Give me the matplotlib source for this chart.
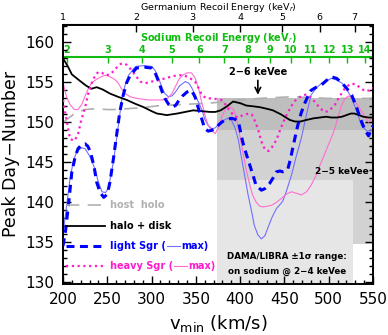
import numpy as np
import matplotlib
matplotlib.use("Agg")
import matplotlib.pyplot as plt
from matplotlib.patches import Rectangle

# data
v_disk = [200, 205, 210, 219, 226, 232, 238, 245, 253, 262, 272, 282, 291, 300, 306, 312, 317, 323, 329, 338,
          347, 356, 366, 372, 378, 385, 392, 400, 407, 415, 422, 430, 437, 446, 456, 462, 468, 475, 483, 490,
          497, 503, 509, 515, 520, 525, 529, 534, 539, 545, 550]
y_disk = [158.0, 157.1, 156.0, 155.2, 154.6, 154.2, 154.4, 154.1, 153.6, 153.2, 152.8, 152.3, 151.9, 151.4, 151.1,
          151.0, 150.9, 151.0, 151.1, 151.3, 151.5, 151.4, 151.3, 151.3, 151.5, 152.0, 152.6, 152.4, 152.1, 152.0,
          151.9, 151.7, 151.5, 151.0, 150.3, 150.1, 150.1, 150.3, 150.5, 150.6, 150.7, 150.6, 150.6, 150.7, 150.9,
          151.1, 151.1, 150.9, 150.7, 150.6, 150.6]

v_host = [200, 206, 212, 217, 225, 236, 250, 262, 272, 285, 294, 310, 330, 347, 365, 384, 400, 422, 440, 459,
          480, 497, 520, 550]
y_host = [150.0, 150.5, 151.0, 151.3, 151.6, 151.7, 151.6, 151.6, 151.7, 151.8, 151.9, 152.1, 152.2, 152.3, 152.4,
          152.6, 152.8, 153.0, 153.1, 153.2, 153.1, 153.0, 153.0, 153.0]

v_light = [200, 203, 207, 210, 214, 217, 221, 225, 228, 231, 235, 238, 242, 246, 250, 253, 257, 261, 264, 268,
           272, 276, 283, 292, 300, 304, 308, 312, 315, 319, 323, 327, 330, 335, 340, 345, 349, 353, 357, 360,
           364, 368, 372, 375, 379, 383, 390, 394, 398, 403, 407, 411, 415, 418, 424, 428, 433, 437, 441, 445,
           448, 451, 454, 457, 460, 465, 469, 473, 477, 480, 486, 492, 497, 503, 509, 515, 520, 526, 531, 537,
           541, 545, 550]
y_light = [134.5, 136.5, 140.5, 143.8, 145.8, 146.7, 147.2, 147.3, 147.0, 146.3, 144.5, 142.5, 141.2, 140.6, 141.0,
           142.5, 145.5, 148.8, 151.2, 153.4, 155.0, 155.9, 156.8, 156.9, 156.8, 156.2, 155.1, 153.8, 153.0, 152.3,
           151.9, 152.1, 152.6, 153.3, 153.8, 154.0, 153.2, 151.7, 150.3, 149.2, 148.9, 149.0, 149.3, 149.6, 150.0,
           150.3, 150.5, 150.4, 150.1, 147.5, 146.0, 144.6, 143.2, 142.1, 141.5, 141.7, 142.3, 143.0, 143.8, 143.9,
           143.8, 143.9, 144.2, 145.5, 147.1, 149.6, 151.2, 152.4, 153.4, 154.0, 154.4, 154.7, 155.2, 155.7, 155.5,
           154.9, 154.3, 153.4, 152.0, 150.1, 149.0, 148.3, 149.6]

v_light_max = [200, 204, 208, 212, 216, 221, 225, 230, 236, 240, 244, 248, 251, 255, 259, 263, 266, 270, 274, 282,
               292, 300, 304, 308, 312, 315, 319, 323, 327, 332, 338, 342, 345, 349, 353, 357, 360, 364, 368, 372,
               375, 379, 386, 390, 394, 398, 401, 405, 409, 413, 416, 420, 424, 428, 431, 436, 441, 445, 448, 452,
               458, 463, 469, 475, 480, 486, 492, 497, 503, 509, 515, 520, 526, 531, 537, 543, 550]
y_light_max = [136.0, 139.5, 143.0, 145.3, 146.4, 146.8, 146.7, 145.8, 144.2, 142.5, 141.3, 141.2, 141.7, 143.8,
               146.7, 150.0, 152.6, 154.6, 155.9, 157.0, 157.1, 157.0, 156.5, 155.5, 154.3, 153.6, 153.2, 153.3,
               153.8, 154.6, 155.1, 154.9, 154.4, 153.5, 152.5, 151.5, 150.4, 149.6, 149.2, 149.3, 149.7, 150.1,
               150.5, 150.3, 149.4, 147.8, 145.9, 143.4, 140.9, 138.8, 137.1, 135.9, 135.4, 135.8, 136.7, 138.1,
               139.2, 139.7, 140.1, 141.3, 143.4, 145.6, 148.0, 151.0, 153.4, 154.3, 154.9, 155.2, 155.5, 155.3,
               154.9, 154.2, 153.0, 151.6, 149.6, 148.9, 149.0]

v_heavy = [200, 204, 208, 213, 217, 220, 225, 229, 233, 237, 240, 244, 248, 253, 257, 261, 265, 268, 272, 276,
           281, 287, 293, 300, 309, 318, 329, 335, 341, 349, 353, 357, 362, 368, 374, 379, 383, 388, 393, 398,
           403, 406, 410, 413, 417, 420, 424, 428, 432, 436, 441, 446, 451, 457, 462, 469, 475, 480, 484, 490,
           495, 500, 507, 512, 518, 524, 530, 536, 541, 546, 550]
y_heavy = [152.8, 150.3, 147.9, 147.7, 148.5, 150.0, 151.9, 153.8, 155.1, 156.0, 156.3, 156.2, 155.9, 156.0, 156.4,
           156.9, 157.3, 157.4, 157.2, 156.7, 156.0, 155.1, 154.9, 155.1, 155.3, 155.6, 155.9, 155.9, 155.7, 155.1,
           154.3, 153.4, 153.0, 153.0, 152.9, 152.8, 152.3, 151.5, 150.8, 150.6, 150.9, 151.0, 151.1, 151.0, 150.1,
           149.2, 147.6, 146.6, 146.4, 146.9, 147.8, 149.3, 150.6, 151.9, 152.7, 153.3, 153.5, 153.1, 152.6, 151.8,
           151.3, 151.4, 152.2, 153.2, 154.2, 154.8, 154.8, 154.3, 153.9, 154.0, 154.3]

v_heavy_max = [200, 204, 208, 213, 217, 221, 225, 229, 233, 238, 243, 248, 253, 258, 262, 266, 270, 276, 283, 290,
               297, 305, 312, 318, 323, 327, 331, 335, 340, 345, 349, 353, 357, 361, 364, 368, 372, 376, 379, 383,
               387, 392, 395, 398, 403, 407, 411, 414, 418, 422, 426, 431, 435, 440, 447, 452, 458, 464, 469, 475,
               480, 486, 490, 495, 500, 505, 510, 514, 518, 522, 527, 533, 539, 545, 550]
y_heavy_max = [155.0, 153.2, 152.2, 151.6, 151.6, 152.2, 153.3, 154.3, 155.0, 155.4, 155.7, 155.9, 155.7, 155.4,
               155.0, 154.2, 153.6, 153.2, 153.0, 152.9, 152.8, 152.8, 152.8, 153.0, 153.6, 154.5, 155.4, 155.9,
               156.2, 156.2, 155.6, 154.3, 152.3, 150.6, 149.6, 148.9, 148.6, 149.5, 150.6, 151.6, 152.0, 151.7,
               150.9, 149.3, 146.3, 144.0, 142.1, 140.9, 140.0, 139.5, 139.4, 139.5, 139.6, 139.9, 140.5, 141.0,
               141.3, 141.1, 140.9, 141.3, 142.1, 143.4, 144.6, 145.9, 147.3, 148.6, 150.4, 152.0, 152.9, 153.3,
               153.0, 152.1, 151.0, 150.0, 150.7]

# DAMA/LIBRA regions: (v_lo, v_hi, y_lo, y_hi)
dama_25 = [374, 550, 134.7, 153.05]
dama_24 = [374, 527, 129.75, 142.8]
dama_26 = [374, 550, 149.0, 153.05]

ge_ticks = [1, 2, 3, 4, 5, 6, 7]
na_ticks = list(range(2, 15))
na_line = 158.2

fig = plt.figure(figsize=(3.88, 3.35), dpi=100)
ax = fig.add_axes([63/388, 51/335, 310/388, 259.5/335])
ylo, yhi = 129.75, 162.25
ax.set_xlim(200, 550)
ax.set_ylim(ylo, yhi)

ax.add_patch(Rectangle((dama_25[0], dama_25[2]), dama_25[1]-dama_25[0], dama_25[3]-dama_25[2],
                       color='#d2d2d2', lw=0, zorder=0))
ax.add_patch(Rectangle((dama_24[0], dama_24[2]), dama_24[1]-dama_24[0], dama_24[3]-dama_24[2],
                       color='#e6e6e6', lw=0, zorder=0))
ax.add_patch(Rectangle((dama_26[0], dama_26[2]), dama_26[1]-dama_26[0], dama_26[3]-dama_26[2],
                       color='#bebebe', lw=0, zorder=0))

blue = '#0000ff'
blue_l = '#7070ff'
pink = '#ff1ccc'
pink_l = '#ff6fcf'
gray = '#b0b0b0'

ax.plot(v_host, y_host, color=gray, lw=1.2, dashes=(8, 5), zorder=2)
ax.plot(v_light_max, y_light_max, color=blue_l, lw=0.8, zorder=2)
ax.plot(v_heavy_max, y_heavy_max, color=pink_l, lw=0.8, zorder=2)
ax.plot(v_disk, y_disk, color='black', lw=1.3, zorder=3)
ax.plot(v_heavy, y_heavy, color=pink, lw=1.6, dashes=(1, 1.6), zorder=3)
ax.plot(v_light, y_light, color=blue, lw=2.2, dashes=(2.6, 1.8), zorder=3)

# frame and ticks
for s in ax.spines.values():
    s.set_linewidth(1.4)
ax.set_xticks(np.arange(200, 551, 50))
ax.set_xticks(np.arange(200, 551, 10), minor=True)
ax.set_yticks(np.arange(130, 161, 5))
ax.set_yticks(np.arange(130, 163, 1), minor=True)
ax.tick_params(which='both', direction='in', top=False, right=True, width=1.0)
ax.tick_params(which='major', length=6, labelsize=11, pad=6)
ax.tick_params(which='minor', length=3)
ax.set_ylabel('Peak Day\u2212Number', fontsize=12.5, labelpad=4)
ax.set_xlabel('v$_{\\mathrm{min}}$ (km/s)', fontsize=13, labelpad=4)

# germanium axis on top
ge = ax.secondary_xaxis('top', functions=(lambda v: (np.asarray(v) / 200.0) ** 2,
                                          lambda e: 200.0 * np.sqrt(np.maximum(e, 0))))
ge.set_xticks(ge_ticks)
ge.tick_params(direction='in', length=6, width=1.0, labelsize=6.8, pad=1.5)
fig.text((63 + 310 / 2) / 388, 1 - 0.5 / 335, 'Germanium Recoil Energy (keV$_r$)', fontsize=6.8,
         ha='center', va='top')

# sodium axis inside
green = '#11bb11'
frac = (na_line - ylo) / (yhi - ylo)
na = ax.secondary_xaxis(frac, functions=(lambda v: (np.asarray(v) / 144.5) ** 2,
                                         lambda e: 144.5 * np.sqrt(np.maximum(e, 0))))
na.set_xticks(na_ticks)
na.tick_params(direction='in', length=4, width=1.0, color=green, labelcolor=green, labelsize=7, pad=1)
for lab in na.get_xticklabels():
    lab.set_fontweight('bold')
for s in na.spines.values():
    s.set_color(green)
    s.set_linewidth(1.5)
na.set_xlabel('Sodium Recoil Energy (keV$_r$)', fontsize=7, color=green, fontweight='bold', labelpad=3.5)

# annotations
ax.annotate('', xy=(420, 153.1), xytext=(420, 155.6),
            arrowprops=dict(arrowstyle='->', color='black', lw=1.2), zorder=5)
ax.text(420, 156.3, '2\u22126 keVee', fontsize=7, fontweight='bold', ha='center', va='center', zorder=5)
ax.text(515, 143.8, '2\u22125 keVee', fontsize=6.5, fontweight='bold', ha='center', va='center', zorder=5)
ax.text(453, 133.15, 'DAMA/LIBRA \u00b11\u03c3 range:', fontsize=6.3, fontweight='bold', ha='center',
        va='center', zorder=5)
ax.text(453, 131.36, 'on sodium @ 2\u22124 keVee', fontsize=6.3, fontweight='bold', ha='center',
        va='center', zorder=5)

# legend built by hand
fig.canvas.draw()
r = fig.canvas.get_renderer()
inv = ax.transData.inverted()


def right_edge(t):
    bb = t.get_window_extent(r)
    return inv.transform((bb.x1, bb.y0))[0]


lx0, lx1, tx = 203.5, 247.5, 253
fs = 7
ax.plot([lx0, lx1], [139.65, 139.65], color=gray, lw=1.2, dashes=(8, 5), zorder=6)
ax.text(tx, 139.65, 'host  holo', color=gray, fontsize=fs, fontweight='bold', va='center', zorder=6)
ax.plot([lx0, lx1], [137.05, 137.05], color='black', lw=1.3, zorder=6)
ax.text(tx, 137.05, 'halo + disk', color='black', fontsize=fs, fontweight='bold', va='center', zorder=6)

ax.plot([lx0, lx1], [134.5, 134.5], color=blue, lw=2.2, dashes=(2.6, 1.8), zorder=6)
t1 = ax.text(tx, 134.5, 'light Sgr (', color=blue, fontsize=fs, fontweight='bold', va='center', zorder=6)
x1 = right_edge(t1)
ax.plot([x1 + 1.5, x1 + 16], [134.5, 134.5], color=blue_l, lw=0.8, zorder=6)
ax.text(x1 + 17.5, 134.5, 'max)', color=blue, fontsize=fs, fontweight='bold', va='center', zorder=6)

ax.plot([lx0, lx1], [132.05, 132.05], color=pink, lw=1.6, dashes=(1, 1.6), zorder=6)
t2 = ax.text(tx, 132.05, 'heavy Sgr (', color=pink, fontsize=fs, fontweight='bold', va='center', zorder=6)
x2 = right_edge(t2)
ax.plot([x2 + 1.5, x2 + 16], [132.05, 132.05], color=pink_l, lw=0.8, zorder=6)
ax.text(x2 + 17.5, 132.05, 'max)', color=pink, fontsize=fs, fontweight='bold', va='center', zorder=6)

fig.savefig('out.png', dpi=100)
